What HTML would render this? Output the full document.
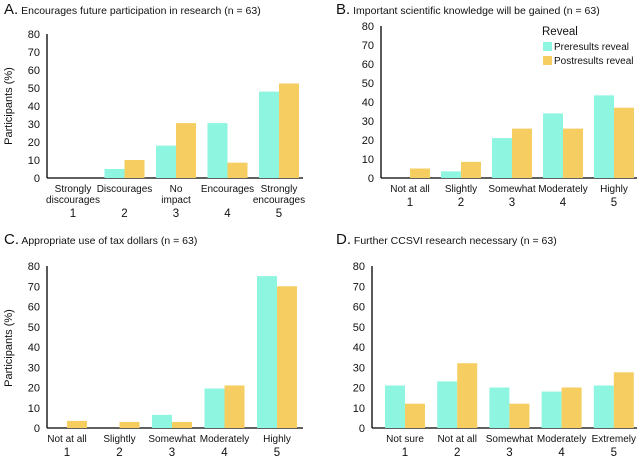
<!DOCTYPE html>
<html><head><meta charset="utf-8"><style>
html,body{margin:0;padding:0;background:#fff;}
svg{display:block;font-family:"Liberation Sans",Arial,sans-serif;}
</style></head><body>
<svg id="chart" width="642" height="460" viewBox="0 0 642 460"></svg>
<script>
const ticks = [0,10,20,30,40,50,60,70,80];
const numLabels = ["1","2","3","4","5"];
const catsA = [["Strongly","discourages"],["Discourages"],["No","impact"],["Encourages"],["Strongly","encourages"]];
const catsB = [["Not at all"],["Slightly"],["Somewhat"],["Moderately"],["Highly"]];
const catsC = [["Not at all"],["Slightly"],["Somewhat"],["Moderately"],["Highly"]];
const catsD = [["Not sure"],["Not at all"],["Somewhat"],["Moderately"],["Extremely"]];
const preA = [0,5,18,30.5,48];
const postA = [0,10,30.5,8.5,52.5];
const preB = [0,3.5,21,34,43.5];
const postB = [5,8.5,26,26,37];
const preC = [0,0,6.5,19.5,75];
const postC = [3.5,3,3,21,70];
const preD = [21,23,20,18,21];
const postD = [12,32,12,20,27.5];

const NS="http://www.w3.org/2000/svg";
const svg=document.getElementById('chart');
function el(tag,attrs,parent,text){const e=document.createElementNS(NS,tag);for(const k in attrs)e.setAttribute(k,attrs[k]);if(text!==undefined)e.textContent=text;(parent||svg).appendChild(e);return e;}

function panel(o){
  const g=el('g',{});
  
  
  const t=el('text',{x:o.tx,y:o.ty,'font-size':10.5,fill:'#111'},g);
  
  
  el('tspan',{'font-size':15},t,o.id.toUpperCase()+'.');
  el('tspan',{},t,' '+o.title);
  const y=v=>o.y0-(v/80)*(o.y0-o.y80);
  const x=i=>o.x1+i*o.step;
  ticks.forEach(v=>{
    const tl=el('text',{x:o.ax-7,y:y(v)+4,'text-anchor':'end','font-size':11,fill:'#111'},g,String(v));
    
    
  });
  const axY=el('line',{x1:o.ax,y1:y(80),x2:o.ax,y2:o.y0,stroke:'#000','stroke-width':1.3},g);
  
  
  const axX=el('line',{x1:o.ax,y1:o.y0,x2:o.xend,y2:o.y0,stroke:'#000','stroke-width':1.3},g);
  
  
  if(o.ylab){
    const yl=el('text',{x:0,y:0,transform:`translate(${o.ylx},${o.yly}) rotate(-90)`,'text-anchor':'middle','font-size':11,fill:'#111'},g,'Participants (%)');
    
    
  }
  const bw=20;
  o.pre.forEach((v,i)=>{
    const r=el('rect',{x:x(i)-bw,y:y(v),width:bw,height:o.y0-y(v),fill:'#8ef5e0'},g);
    
    
  });
  o.post.forEach((v,i)=>{
    const r=el('rect',{x:x(i),y:y(v),width:bw,height:o.y0-y(v),fill:'#f5cd60'},g);
    
    
  });
  o.cats.forEach((c,i)=>{
    c.forEach((line,j)=>{
      const cl=el('text',{x:x(i),y:o.y0+14+j*11,'text-anchor':'middle','font-size':10,fill:'#111'},g,line);
      
      
    });
    const nl=el('text',{x:x(i),y:o.numY,'text-anchor':'middle','font-size':11.5,fill:'#111'},g,numLabels[i]);
    
    
  });
}
panel({id:'a',title:'Encourages future participation in research (n = 63)',tx:4,ty:14,ax:47,y0:178,y80:34,x1:73,step:51.5,xend:303,pre:preA,post:postA,cats:catsA,numY:217,ylab:true,ylx:12,yly:106});
panel({id:'b',title:'Important scientific knowledge will be gained (n = 63)',tx:336,ty:14,ax:381,y0:178,y80:26,x1:410,step:51,xend:637,pre:preB,post:postB,cats:catsB,numY:206,ylab:false});
panel({id:'c',title:'Appropriate use of tax dollars (n = 63)',tx:4,ty:244,ax:47,y0:428,y80:266,x1:67,step:52.5,xend:303,pre:preC,post:postC,cats:catsC,numY:456,ylab:true,ylx:12,yly:348});
panel({id:'d',title:'Further CCSVI research necessary (n = 63)',tx:336,ty:244,ax:372,y0:428,y80:266,x1:405,step:52.2,xend:637,pre:preD,post:postD,cats:catsD,numY:456,ylab:false});

const lg=el('g',{});


const lt=el('text',{x:542,y:35,'font-size':11.5,fill:'#111'},lg,'Reveal');


const l1=el('rect',{x:543,y:42,width:9,height:9,fill:'#8ef5e0'},lg);


const l1t=el('text',{x:554,y:50,'font-size':10,fill:'#111'},lg,'Preresults reveal');


const l2=el('rect',{x:543,y:56,width:9,height:9,fill:'#f5cd60'},lg);


const l2t=el('text',{x:554,y:64,'font-size':10,fill:'#111'},lg,'Postresults reveal');


</script>
</body></html>
